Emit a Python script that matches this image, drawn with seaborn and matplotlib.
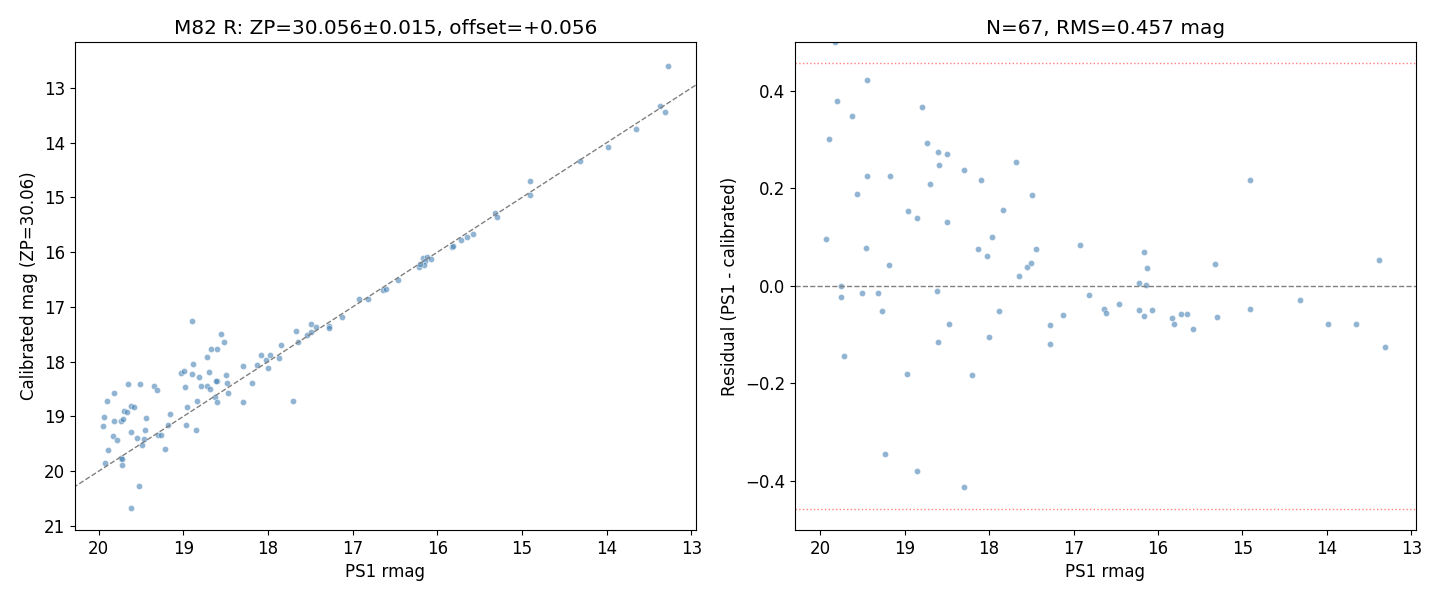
import numpy as np
import pandas as pd
import matplotlib
matplotlib.use('Agg')
import matplotlib.pyplot as plt
import seaborn as sns

plt.rcParams['font.size'] = 12

# Left panel: PS1 rmag vs calibrated mag
ps1_mag = [
    18.90, 18.56, 18.52, 18.67, 18.60, 18.72, 18.88, 19.03, 18.99, 18.90,
    18.81, 18.70, 18.49, 18.60, 18.61, 18.48, 18.79, 18.72, 18.68, 18.98,
    18.47, 18.62, 18.60, 18.84, 18.96, 19.16, 18.97, 18.85, 19.18, 19.30,
    19.26, 19.22, 19.52, 19.62, 19.35, 19.31, 19.65, 19.51, 19.82, 19.90,
    19.62, 19.58, 19.70, 19.67, 19.94, 19.82, 19.74, 19.71, 19.44, 19.95,
    19.62, 19.45, 19.83, 19.78, 19.55, 19.46, 19.49, 19.89, 19.74, 19.72,
    19.72, 19.93,
    18.30, 18.13, 18.08, 18.02, 17.97, 18.00, 17.87, 17.84, 18.19, 18.30,
    17.70, 17.67, 17.65, 17.54, 17.49, 17.49, 17.43, 17.28, 17.28,
    15.58, 15.65, 15.72, 15.83, 15.81, 16.17, 16.12, 16.07, 16.14, 16.22,
    16.16, 16.20, 16.46, 16.64, 16.60, 16.92, 16.82, 17.12,
    13.27, 13.37, 13.31, 13.65, 13.98, 14.32, 14.91, 14.91, 15.32, 15.30,
]
cal_mag = [
    17.26, 17.50, 17.64, 17.77, 17.77, 17.92, 18.05, 18.21, 18.17, 18.23,
    18.28, 18.19, 18.25, 18.35, 18.36, 18.38, 18.45, 18.45, 18.50, 18.47,
    18.58, 18.65, 18.74, 18.72, 18.83, 18.96, 19.16, 19.25, 19.16, 19.34,
    19.34, 19.60, 20.27, 20.68, 18.45, 18.52, 18.41, 18.41, 18.58, 18.72,
    18.80, 18.83, 18.90, 18.92, 19.01, 19.09, 19.09, 19.05, 19.03, 19.18,
    19.29, 19.25, 19.36, 19.43, 19.40, 19.42, 19.53, 19.62, 19.76, 19.78,
    19.89, 19.85,
    18.08, 18.06, 17.88, 17.97, 17.88, 18.12, 17.93, 17.70, 18.39, 18.74,
    18.72, 17.43, 17.64, 17.52, 17.32, 17.46, 17.37, 17.35, 17.39,
    15.67, 15.73, 15.78, 15.91, 15.89, 16.11, 16.09, 16.13, 16.16, 16.27,
    16.24, 16.22, 16.51, 16.69, 16.68, 16.86, 16.86, 17.19,
    12.59, 13.32, 13.43, 13.74, 14.07, 14.34, 14.70, 14.96, 15.29, 15.36,
]

# Right panel: residuals
res_ps1 = [
    19.83, 19.44, 19.80, 18.80, 19.62, 19.89, 18.73, 18.61, 18.50, 17.68,
    18.59, 18.30, 19.45, 19.17, 18.09, 18.70, 19.56, 17.84, 18.96, 18.85,
    18.50, 19.93, 17.97, 19.46, 18.13, 18.03, 19.18, 17.65,
    19.75, 19.75, 19.50, 19.31, 18.62, 19.27, 17.88, 18.47, 18.00, 18.60,
    19.72, 18.97, 18.20, 19.23, 18.85, 18.30,
    17.49, 14.91, 16.92, 17.44, 16.17, 17.55, 17.50, 16.13, 15.32, 13.38,
    16.22, 16.14, 16.82, 14.32, 16.46, 16.64, 16.61, 16.22, 16.07, 16.16,
    14.91, 17.12, 15.73, 15.66, 15.83, 15.81, 15.30, 15.58, 13.99, 13.66,
    17.28, 17.28, 13.31,
]
residual = [
    0.500, 0.422, 0.379, 0.367, 0.348, 0.301, 0.293, 0.274, 0.270, 0.254,
    0.248, 0.237, 0.225, 0.225, 0.217, 0.209, 0.188, 0.155, 0.153, 0.139,
    0.131, 0.096, 0.100, 0.077, 0.075, 0.061, 0.042, 0.020,
    0.000, -0.023, -0.015, -0.015, -0.011, -0.052, -0.052, -0.079, -0.105, -0.115,
    -0.144, -0.181, -0.183, -0.345, -0.380, -0.413,
    0.186, 0.217, 0.083, 0.075, 0.069, 0.038, 0.046, 0.036, 0.044, 0.053,
    0.005, 0.001, -0.019, -0.029, -0.038, -0.048, -0.056, -0.050, -0.050, -0.062,
    -0.048, -0.060, -0.058, -0.058, -0.066, -0.079, -0.064, -0.089, -0.079, -0.079,
    -0.081, -0.120, -0.126,
]
rms = 0.457

left = pd.DataFrame({'ps1': ps1_mag, 'cal': cal_mag})
right = pd.DataFrame({'ps1': res_ps1, 'res': residual})

fig, (ax1, ax2) = plt.subplots(1, 2, figsize=(14.4, 6), dpi=100)

# Calibration plot
sns.scatterplot(data=left, x='ps1', y='cal', ax=ax1, color='steelblue',
                alpha=0.6, s=20, edgecolor='white', linewidth=0.5)
ax1.axline((13, 13), (20, 20), color='gray', ls='--', lw=1)
ax1.set_xlim(20.28, 12.95)
ax1.set_ylim(21.07, 12.16)
ax1.set_xlabel('PS1 rmag')
ax1.set_ylabel('Calibrated mag (ZP=30.06)')
ax1.set_title('M82 R: ZP=30.056\u00b10.015, offset=+0.056')

# Residual plot
sns.scatterplot(data=right, x='ps1', y='res', ax=ax2, color='steelblue',
                alpha=0.6, s=20, edgecolor='white', linewidth=0.5)
ax2.axhline(0, color='gray', ls='--', lw=1)
ax2.axhline(rms, color='red', ls=':', lw=1, alpha=0.5)
ax2.axhline(-rms, color='red', ls=':', lw=1, alpha=0.5)
ax2.set_xlim(20.30, 12.95)
ax2.set_ylim(-0.5, 0.5)
ax2.set_yticks([-0.4, -0.2, 0.0, 0.2, 0.4])
ax2.set_xlabel('PS1 rmag')
ax2.set_ylabel('Residual (PS1 - calibrated)')
ax2.set_title(f'N=67, RMS={rms:.3f} mag')

plt.subplots_adjust(left=0.052, right=0.983, bottom=0.117, top=0.93, wspace=0.16)
plt.savefig('out.png', dpi=100)
